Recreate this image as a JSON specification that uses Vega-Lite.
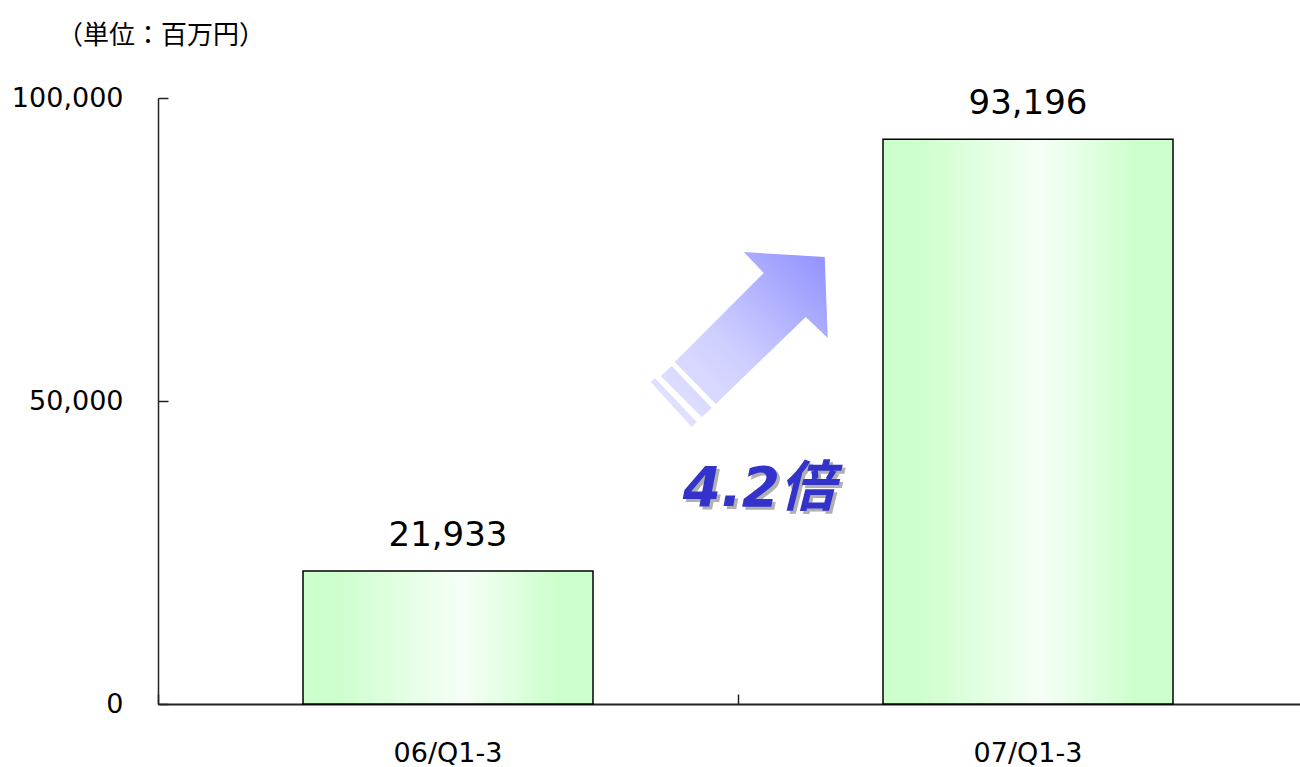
{
  "$schema": "https://vega.github.io/schema/vega-lite/v6.json",
  "width": 1142,
  "height": 606,
  "autosize": {"type": "none"},
  "padding": {"left": 158, "top": 98, "right": 0, "bottom": 63},
  "background": "white",
  "config": {"view": {"stroke": null}},
  "title": {
    "text": "（単位：百万円）",
    "anchor": "start",
    "frame": "group",
    "dx": -101,
    "offset": 35,
    "font": "Noto Sans CJK JP",
    "fontSize": 26,
    "fontWeight": "normal",
    "color": "#000000"
  },
  "layer": [
    {
      "data": {
        "values": [
          {"period": "06/Q1-3", "value": 21933},
          {"period": "07/Q1-3", "value": 93196}
        ]
      },
      "encoding": {
        "x": {
          "field": "period",
          "type": "nominal",
          "sort": null,
          "scale": {"type": "band", "range": [0, 1160], "paddingInner": 0.5, "paddingOuter": 0.25},
          "axis": {
            "title": null,
            "labelAngle": 0,
            "labelFont": "DejaVu Sans",
            "labelFontSize": 27,
            "labelColor": "#000000",
            "labelPadding": 46,
            "tickSize": -10,
            "tickColor": "#222222",
            "tickWidth": 1.5,
            "bandPosition": -0.5,
            "domainColor": "#222222",
            "domainWidth": 2,
            "grid": false
          }
        },
        "y": {
          "field": "value",
          "type": "quantitative",
          "scale": {"domain": [0, 100000], "nice": false},
          "axis": {
            "title": null,
            "values": [0, 50000, 100000],
            "labelExpr": "format(datum.value, ',')",
            "labelFont": "DejaVu Sans",
            "labelFontSize": 27,
            "labelColor": "#000000",
            "labelPadding": 45,
            "tickSize": -10,
            "tickColor": "#222222",
            "tickWidth": 1.5,
            "domainColor": "#222222",
            "domainWidth": 1.5,
            "grid": false
          }
        }
      },
      "layer": [
        {
          "mark": {
            "type": "bar",
            "stroke": "#000000",
            "strokeWidth": 1.5,
            "fill": {
              "x1": 0, "y1": 0, "x2": 1, "y2": 0,
              "gradient": "linear",
              "stops": [
                {"offset": 0, "color": "#ccffcc"},
                {"offset": 0.1, "color": "#ccffcc"},
                {"offset": 0.55, "color": "#f6fff6"},
                {"offset": 0.88, "color": "#ccffcc"},
                {"offset": 1, "color": "#ccffcc"}
              ]
            }
          }
        },
        {
          "mark": {
            "type": "text",
            "font": "DejaVu Sans",
            "fontSize": 34,
            "color": "#000000",
            "baseline": "alphabetic",
            "dy": -25
          },
          "encoding": {
            "text": {"field": "value", "type": "quantitative", "format": ","}
          }
        }
      ]
    },
    {
      "data": {"values": [{"label": "arrow"}]},
      "mark": {
        "type": "point",
        "filled": true,
        "opacity": 1,
        "strokeWidth": 0,
        "size": 40000,
        "shape": "M-0.65,0.22 L0.24,-0.67 L0.04,-0.88 L0.85,-0.83 L0.88,-0.02 L0.66,-0.23 L-0.24,0.64 Z M-0.79,0.36 L-0.68,0.26 L-0.28,0.68 L-0.38,0.77 Z M-0.89,0.42 L-0.85,0.38 L-0.43,0.82 L-0.48,0.87 Z",
        "fill": {
          "x1": 0, "y1": 1, "x2": 1, "y2": 0,
          "gradient": "linear",
          "stops": [
            {"offset": 0, "color": "#e6e6ff"},
            {"offset": 0.45, "color": "#cfcfff"},
            {"offset": 1, "color": "#9090ff"}
          ]
        }
      },
      "encoding": {
        "x": {"datum": 1.003, "type": "quantitative", "scale": {"domain": [0, 2], "range": [0, 1160]}, "axis": null},
        "y": {"datum": 60066, "type": "quantitative"}
      }
    },
    {
      "data": {"values": [{"label": "4.2倍"}]},
      "mark": {
        "type": "text",
        "font": "DejaVu Sans, Noto Sans CJK JP",
        "fontSize": 55,
        "fontWeight": "bold",
        "fontStyle": "italic",
        "color": "#b0b0b0",
        "align": "center",
        "baseline": "middle",
        "dx": 3,
        "dy": 3
      },
      "encoding": {
        "x": {"datum": 1.036, "type": "quantitative", "scale": {"domain": [0, 2], "range": [0, 1160]}, "axis": null},
        "y": {"datum": 35480, "type": "quantitative"},
        "text": {"field": "label"}
      }
    },
    {
      "data": {"values": [{"label": "4.2倍"}]},
      "mark": {
        "type": "text",
        "font": "DejaVu Sans, Noto Sans CJK JP",
        "fontSize": 55,
        "fontWeight": "bold",
        "fontStyle": "italic",
        "color": "#3333cc",
        "align": "center",
        "baseline": "middle"
      },
      "encoding": {
        "x": {"datum": 1.036, "type": "quantitative", "scale": {"domain": [0, 2], "range": [0, 1160]}, "axis": null},
        "y": {"datum": 35480, "type": "quantitative"},
        "text": {"field": "label"}
      }
    }
  ],
  "resolve": {"scale": {"x": "independent"}, "axis": {"x": "independent"}}
}
